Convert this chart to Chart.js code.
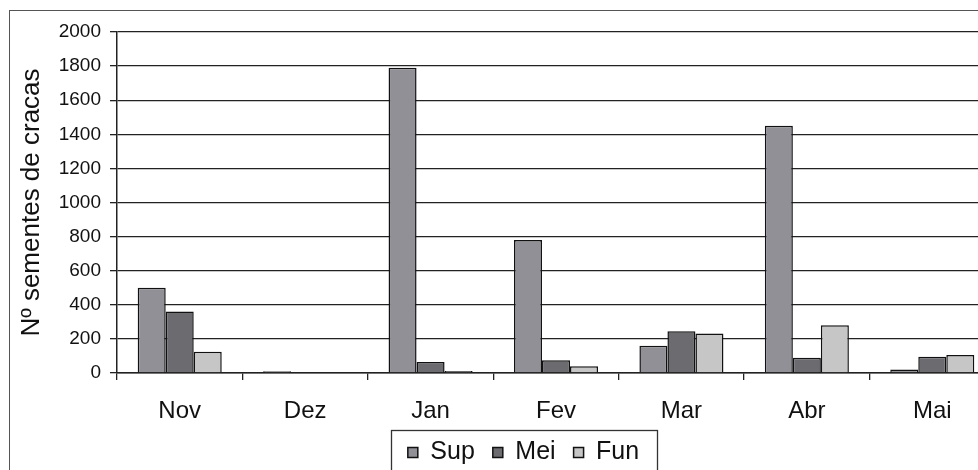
<!DOCTYPE html>
<html>
<head>
<meta charset="utf-8">
<script src="https://cdn.jsdelivr.net/npm/chart.js@4"></script>
<style>
  html, body { margin: 0; padding: 0; background: #fff; overflow: hidden; }
  #wrap { width: 995px; height: 470px; }
</style>
</head>
<body>
<div id="wrap"><canvas id="chart"></canvas></div>
<script>
const months = ['Nov', 'Dez', 'Jan', 'Fev', 'Mar', 'Abr', 'Mai'];
const sup = [500, 10, 1790, 780, 160, 1450, 20];
const mei = [360, 0, 65, 75, 245, 90, 95];
const fun = [125, 0, 12, 40, 232, 280, 105];
const yTicks = [0, 200, 400, 600, 800, 1000, 1200, 1400, 1600, 1800, 2000];

const font = 'Liberation Sans, Arial, sans-serif';
const legendShift = 21;

// legend sits a bit right of centre in the original
const shiftLegend = {
  id: 'shiftLegend',
  afterLayout(chart) {
    chart.legend.left += legendShift;
    chart.legend.right += legendShift;
  }
};

// frame around the whole figure and around the legend
const frames = {
  id: 'frames',
  afterDraw(chart) {
    const ctx = chart.ctx;
    ctx.save();
    ctx.strokeStyle = '#555';
    ctx.lineWidth = 1;
    ctx.strokeRect(9.5, 10.5, 1100, 600);
    const l = chart.legend;
    const mid = (l.left + l.right) / 2;
    const w = l.lineWidths[0] + 8;
    ctx.strokeStyle = '#333';
    ctx.lineWidth = 1.3;
    ctx.strokeRect(Math.round(mid - w / 2 - 4) + 0.5, 430.5, Math.round(w + 9), 60);
    ctx.restore();
  }
};

new Chart(document.getElementById('chart'), {
  type: 'bar',
  data: {
    labels: months,
    datasets: [
      { label: 'Sup', data: sup, backgroundColor: '#909096' },
      { label: 'Mei', data: mei, backgroundColor: '#6b6b70' },
      { label: 'Fun', data: fun, backgroundColor: '#c6c6c6' }
    ].map(d => Object.assign(d, {
      borderColor: '#111',
      borderWidth: 1.5,
      categoryPercentage: 0.67,
      barPercentage: 1.0
    }))
  },
  options: {
    responsive: true,
    maintainAspectRatio: false,
    animation: false,
    layout: { padding: { left: 10, top: 32, right: 0, bottom: -5 } },
    plugins: {
      tooltip: { enabled: false },
      legend: {
        position: 'bottom',
        labels: {
          font: { family: font, size: 25 },
          color: '#111',
          boxWidth: 10,
          boxHeight: 10,
          padding: 18,
          useBorderRadius: false
        }
      }
    },
    scales: {
      x: {
        grid: { drawOnChartArea: false, tickLength: 7, color: '#222', lineWidth: 1.3 },
        border: { color: '#222', width: 1.5 },
        ticks: { font: { family: font, size: 24 }, color: '#111', padding: 17 },
        afterFit(scale) { scale.height = 49; }
      },
      y: {
        min: 0,
        max: 2000,
        afterBuildTicks(scale) { scale.ticks = yTicks.map(v => ({ value: v })); },
        grid: { color: '#222', lineWidth: 1.3, tickLength: 7 },
        border: { color: '#222', width: 1.5 },
        ticks: {
          font: { family: font, size: 19 },
          color: '#111',
          padding: 9,
          callback: v => String(v)
        },
        title: {
          display: true,
          text: 'Nº sementes de cracas',
          font: { family: font, size: 26 },
          color: '#111',
          padding: { top: 6, bottom: 0 }
        },
        afterFit(scale) { scale.width = 107; }
      }
    }
  },
  plugins: [shiftLegend, frames]
});
</script>
</body>
</html>
